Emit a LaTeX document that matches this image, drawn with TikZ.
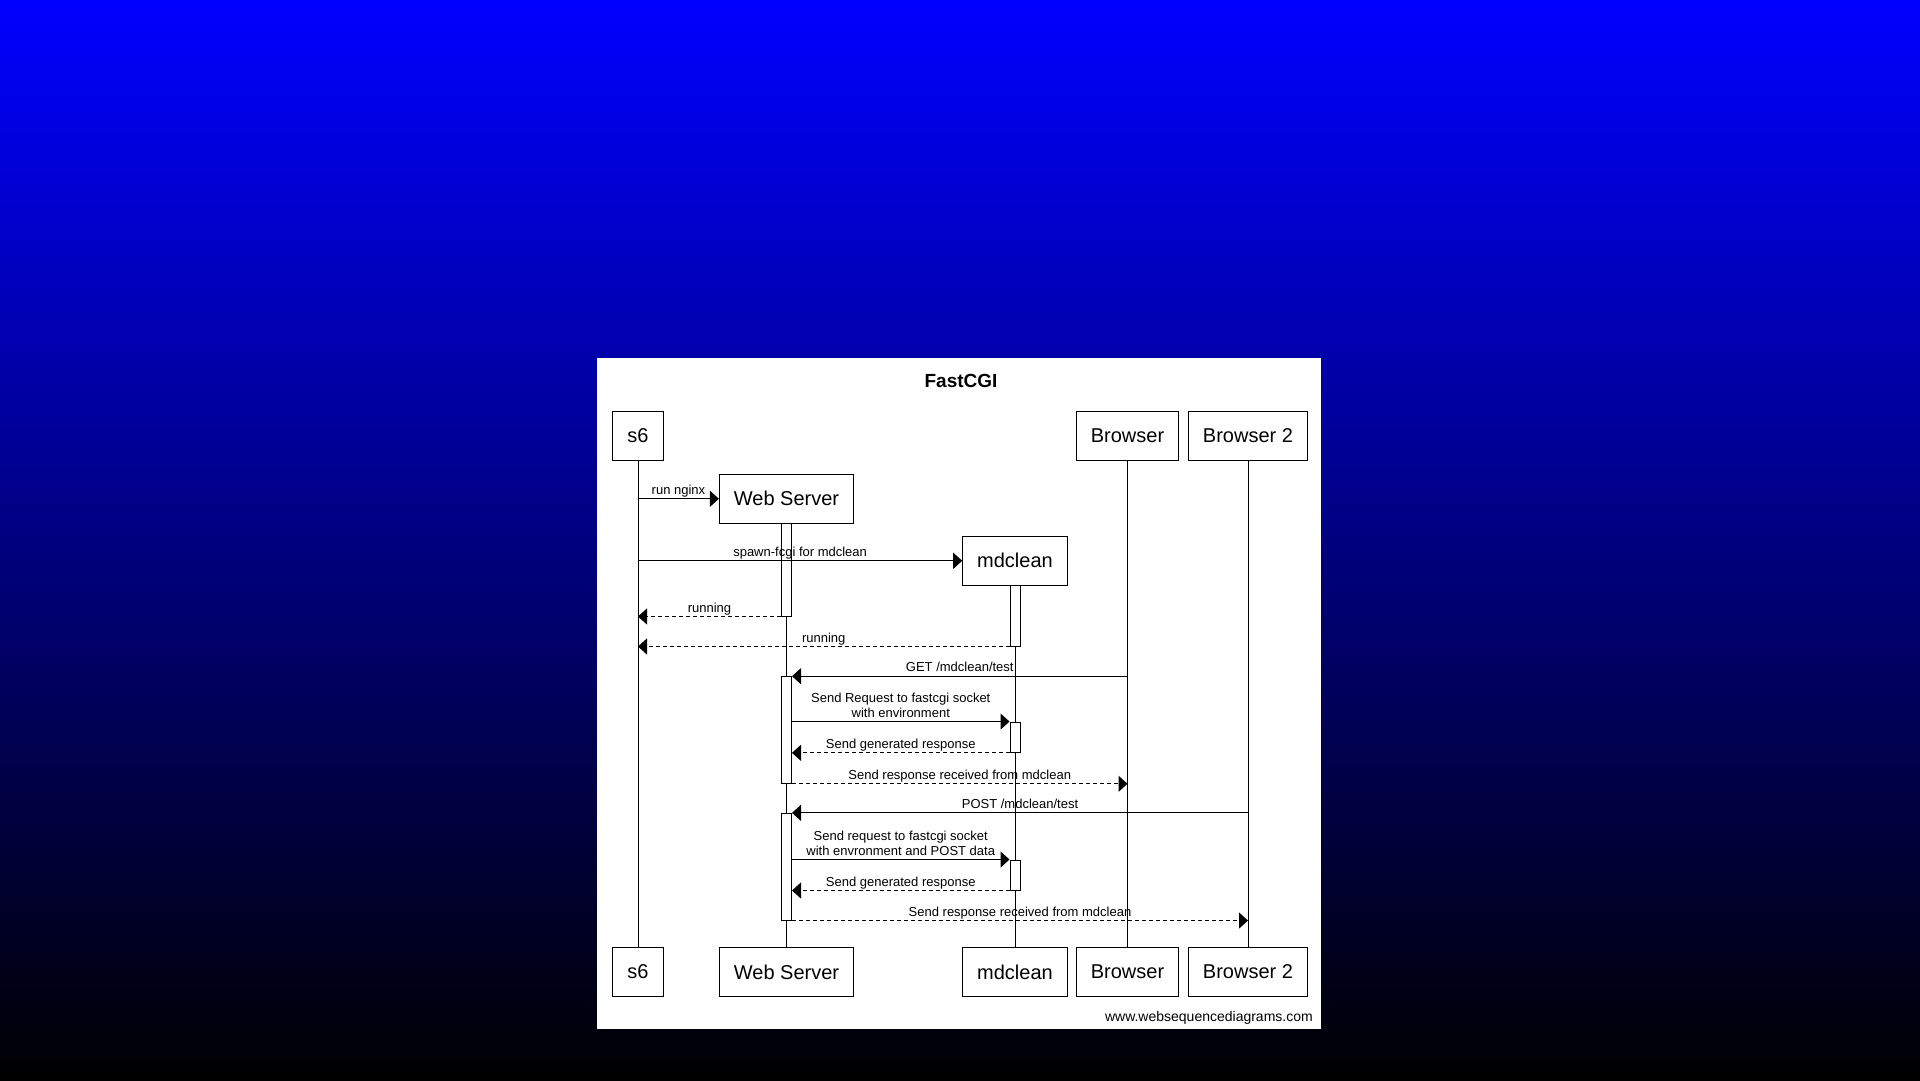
\documentclass[tikz,border=0pt]{standalone}
\usepackage{fontspec}
\setmainfont{Liberation Sans}
\usetikzlibrary{arrows.meta}
\begin{document}
\begin{tikzpicture}[x=1pt,y=-1pt,
  actor/.style={draw,line width=1pt,fill=white,inner xsep=14.5pt,minimum height=49pt,font=\fontsize{20}{24}\selectfont},
  actbar/.style={draw,line width=1pt,fill=white,inner sep=0pt,minimum width=10pt},
  msg/.style={line width=1pt,-{Triangle[length=9pt,width=16pt]}},
  reply/.style={msg,dash pattern=on 4pt off 3pt},
  lbl/.style={font=\fontsize{13}{15}\selectfont,inner sep=0pt,anchor=base,yshift=4.5pt,align=center}]
\useasboundingbox (0,0) rectangle (1920,1080);
\shade[top color=blue,bottom color=black] (0,0) rectangle (1920,1080);
\fill[white] (597,358) rectangle (1321,1029);
\node[anchor=base,font=\fontsize{19}{23}\selectfont\bfseries] (title) at (961,387.5) {FastCGI};

% participants
\node[actor] (s6top) at (638,435.8) {s6};
\node[actor] (browser) at (1127.5,435.8) {Browser};
\node[actor] (browsertwo) at (1248,435.8) {Browser 2};
\node[actor] (websrv) at (786.5,498.8) {Web Server};
\node[actor] (mdclean) at (1015,560.8) {mdclean};
\node[actor] (s6bot) at (638,972) {s6};
\node[actor] (websrvbot) at (786.5,972) {Web Server};
\node[actor] (mdcleanbot) at (1015,972) {mdclean};
\node[actor] (browserbot) at (1127.5,972) {Browser};
\node[actor] (browsertwobot) at (1248,972) {Browser 2};

\draw[line width=1pt] (s6top) -- (s6bot);
\draw[line width=1pt] (websrv) -- (websrvbot);
\draw[line width=1pt] (mdclean) -- (mdcleanbot);
\draw[line width=1pt] (browser) -- (browserbot);
\draw[line width=1pt] (browsertwo) -- (browsertwobot);

% activations
\node[actbar,minimum height=93pt] (wsact1) at (786.5,569.5) {};
\node[actbar,minimum height=61pt] (mdact1) at (1015,615.5) {};
\node[actbar,minimum height=106.6pt] (wsact2) at (786.5,730) {};
\node[actbar,minimum height=30.3pt] (mdact2) at (1015,737.2) {};
\node[actbar,minimum height=106.7pt] (wsact3) at (786.5,866.7) {};
\node[actbar,minimum height=30pt] (mdact3) at (1015,875) {};

% messages
\draw[msg] (s6top |- websrv.west) -- node[lbl]{run nginx} (websrv.west);
\draw[msg] (s6top |- mdclean.west) -- node[lbl]{spawn-fcgi for mdclean} (mdclean.west);
\draw[reply] (wsact1.south west) -- node[lbl]{running} (s6top |- wsact1.south);
\draw[reply] (mdact1.south west) -- node[lbl]{running} (s6top |- mdact1.south);
\draw[msg] (browser |- wsact2.north) -- node[lbl]{GET /mdclean/test} (wsact2.north east);
\draw[msg] (wsact2.east |- mdact2.north) -- node[lbl]{Send Request to fastcgi socket\\with environment} (mdact2.north west);
\draw[reply] (mdact2.south west) -- node[lbl]{Send generated response} (wsact2.east |- mdact2.south);
\draw[reply] (wsact2.south east) -- node[lbl]{Send response received from mdclean} (browser |- wsact2.south);
\draw[msg] (browsertwo |- wsact3.north) -- node[lbl]{POST /mdclean/test} (wsact3.north east);
\draw[msg] (wsact3.east |- mdact3.north) -- node[lbl]{Send request to fastcgi socket\\with envronment and POST data} (mdact3.north west);
\draw[reply] (mdact3.south west) -- node[lbl]{Send generated response} (wsact3.east |- mdact3.south);
\draw[reply] (wsact3.south east) -- node[lbl]{Send response received from mdclean} (browsertwo |- wsact3.south);

\node[anchor=base east,inner sep=0pt,font=\fontsize{14}{17}\selectfont] (credit) at (1313,1021) {www.websequencediagrams.com};
\end{tikzpicture}
\end{document}
